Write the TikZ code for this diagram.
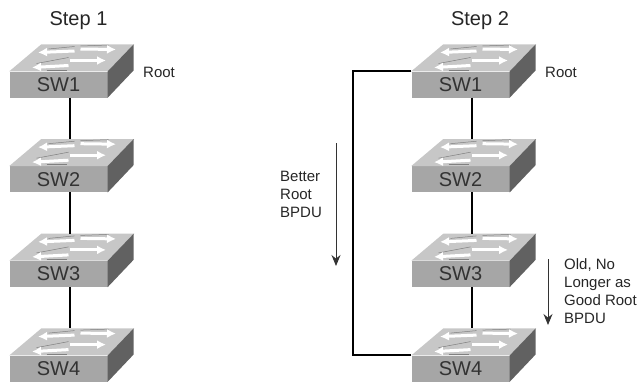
\documentclass[tikz,border=0pt]{standalone}
\usepackage{xcolor}
\usepackage{fontspec}
\setmainfont{Liberation Sans}
\usetikzlibrary{arrows.meta}

% one switch drawn round its front face
\newcommand{\switchtop}[1]{
  \fill[switch top] (#1.north west) -- +(32,-27) -- +(125,-27) -- (#1.north east) -- cycle;
  \fill[switch side] (#1.north east) -- +(26,-27) -- +(26,-1) -- (#1.south east) -- cycle;
  \begin{scope}[shift={(#1.center)}]
    \draw[port line] (-10,-35.5) -- (16,-38);
    \draw[port line] (22,-38.5) -- (50,-39.5);
    \draw[port line] (-22,-21) -- (10,-27);
    \draw[port line] (-12,-14.5) -- (8,-14.5);
    \draw[port arrow] (16,-33.5) -- (-20.5,-32);
    \draw[port arrow] (22,-35.5) -- (57.5,-35);
    \draw[port arrow] (10,-19) -- (-26.5,-17);
    \draw[port arrow] (11,-24) -- (47.5,-24);
  \end{scope}
}

\begin{document}
\begin{tikzpicture}[x=1pt,y=-1pt,>={Stealth[length=11pt,width=9pt]},node distance=94.7pt,
    switch/.style={rectangle,fill=gray!70,text=black!80,minimum width=98pt,minimum height=26pt,inner sep=0pt,font=\fontsize{20}{20}\selectfont},
    switch top/.style={fill=black!22},
    switch side/.style={fill=black!62},
    port arrow/.style={-{Latex[length=9pt,width=9pt]},white,line width=3pt},
    port line/.style={black!50,line width=.5pt},
    link/.style={black,line width=2pt},
    note/.style={align=left,anchor=west,inner sep=0pt,text=black!85,font=\fontsize{15}{18}\selectfont},
    title/.style={inner sep=0pt,text=black!85,font=\fontsize{20}{20}\selectfont}]
    \useasboundingbox (0,0) rectangle (639,383);

    \node[switch] (a1) at (58.5,84.5) {SW1};
    \node[switch] (a2) [below of=a1] {SW2};
    \node[switch] (a3) [below of=a2] {SW3};
    \node[switch] (a4) [below of=a3] {SW4};

    \node[switch] (b1) at (460.5,84.5) {SW1};
    \node[switch] (b2) [below of=b1] {SW2};
    \node[switch] (b3) [below of=b2] {SW3};
    \node[switch] (b4) [below of=b3] {SW4};

    \foreach \sw in {a1,a2,a3,a4,b1,b2,b3,b4}
      {\switchtop{\sw}}

    \foreach \up/\down in {a1/a2,a2/a3,a3/a4,b1/b2,b2/b3,b3/b4}
      {\draw[link] ([xshift=11.5]\up.south) -- ([xshift=11.5,yshift=27]\down.north);}
    \draw[link] (b1.north west) -- ++(-58,0) |- (b4.north west);

    \node[title] (step1) at (78.5,21) {Step 1};
    \node[title] (step2) at (480,21) {Step 2};
    \node[note] (root1) at (143,72) {Root};
    \node[note] (root2) at (545,72) {Root};
    \node[note] (better) at (280,194) {Better\\Root\\BPDU};
    \node[note] (old) at (564,291) {Old, No\\Longer as\\Good Root\\BPDU};

    \coordinate (better top) at (336,143);
    \coordinate (better end) at (336,266);
    \coordinate (old top) at (548,259);
    \coordinate (old end) at (548,325);
    \draw[->,line width=1pt,black!80] (better top) -- (better end);
    \draw[->,line width=1pt,black!80] (old top) -- (old end);
\end{tikzpicture}
\end{document}
